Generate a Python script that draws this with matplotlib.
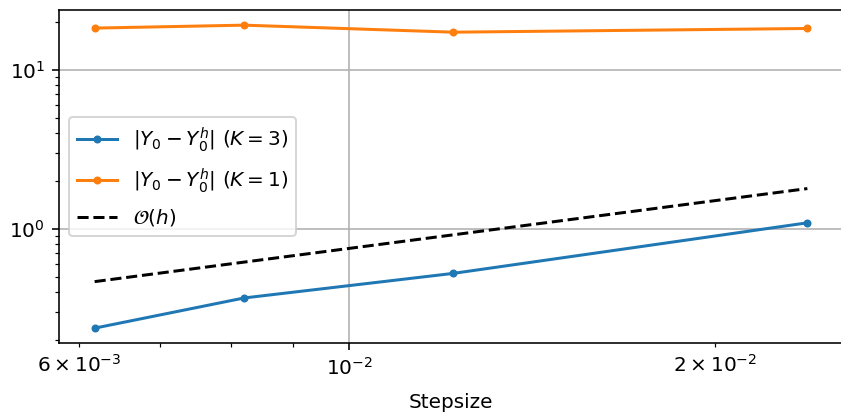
import matplotlib
matplotlib.use("Agg")
import matplotlib.pyplot as plt

# step sizes
stepsize = [6.18e-3, 8.2e-3, 1.218e-2, 2.38e-2]

# errors for the two runs
err_k3 = [0.237, 0.367, 0.524, 1.09]
err_k1 = [18.3, 19.1, 17.25, 18.2]

# reference slope-1 line
ref_h = [0.465, 0.617, 0.916, 1.79]

labels = [r"$|Y_0 - Y_0^h|$ $(K=3)$",
          r"$|Y_0 - Y_0^h|$ $(K=1)$",
          r"$\mathcal{O}(h)$"]

DPI = 144


def main() -> None:
    fig = plt.figure(figsize=(841 / DPI, 413 / DPI), dpi=DPI)
    ax = fig.add_axes([59 / 841, (413 - 343.3) / 413, 784 / 841, 333.3 / 413])

    ax.loglog(stepsize, err_k3, ".-", color="tab:blue", label=labels[0])
    ax.loglog(stepsize, err_k1, ".-", color="tab:orange", label=labels[1])
    ax.loglog(stepsize, ref_h, "--", color="black", label=labels[2])

    ax.grid(True)
    ax.set_xlabel("Stepsize", labelpad=6.8)
    ax.legend(loc="center left", labelspacing=0.62)

    fig.savefig("out.png", dpi=DPI)
    plt.close(fig)


if __name__ == "__main__":
    main()
